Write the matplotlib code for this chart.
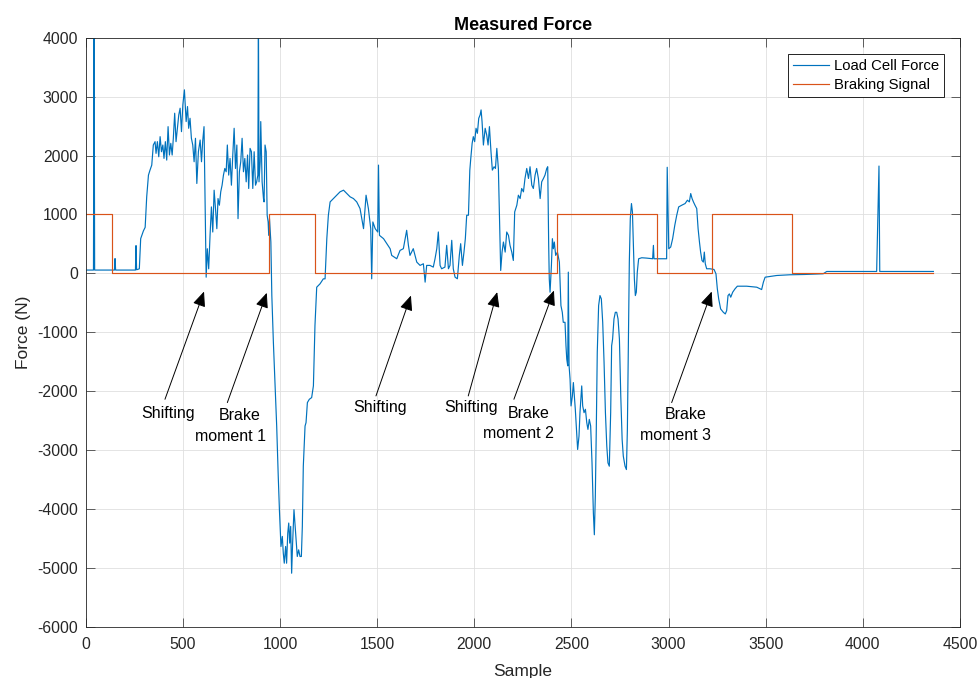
import matplotlib
matplotlib.use("Agg")
import matplotlib.pyplot as plt
import numpy as np

plt.rcParams['font.family'] = ['Liberation Sans', 'DejaVu Sans']
plt.rcParams['axes.unicode_minus'] = False

# Load cell force (sample index, N)
samples = [
    0, 40, 43, 46, 148, 151, 154, 256, 259, 262,
    276, 283, 297, 306, 314, 323, 331, 340, 348, 357,
    362, 369, 376, 383, 390, 397, 403, 410, 417, 424,
    431, 438, 445, 451, 458, 465, 472, 479, 486, 493,
    500, 508, 517, 524, 530, 537, 544, 551, 558, 565,
    572, 580, 589, 596, 602, 609, 614, 620, 626, 633,
    640, 647, 654, 661, 668, 675, 681, 688, 695, 702,
    709, 716, 723, 729, 736, 743, 750, 757, 764, 771,
    778, 784, 791, 798, 805, 812, 819, 826, 833, 839,
    846, 853, 860, 867, 874, 880, 886, 889, 892, 898,
    901, 908, 915, 918, 923, 929, 934, 939, 942, 946,
    949, 953, 958, 966, 983, 991, 997, 1005, 1012, 1017,
    1022, 1029, 1034, 1040, 1045, 1050, 1055, 1060, 1065, 1072,
    1077, 1082, 1089, 1096, 1103, 1110, 1115, 1120, 1129, 1134,
    1141, 1151, 1163, 1172, 1180, 1189, 1206, 1223, 1232, 1241,
    1249, 1258, 1275, 1292, 1309, 1327, 1344, 1361, 1378, 1395,
    1412, 1430, 1443, 1455, 1467, 1472, 1478, 1490, 1503, 1507,
    1512, 1533, 1550, 1567, 1575, 1601, 1618, 1635, 1652, 1661,
    1669, 1686, 1704, 1721, 1738, 1747, 1755, 1772, 1789, 1798,
    1807, 1815, 1824, 1832, 1849, 1858, 1867, 1875, 1884, 1892,
    1901, 1913, 1923, 1930, 1939, 1947, 1954, 1961, 1970, 1977,
    1982, 1989, 1995, 2002, 2009, 2016, 2023, 2030, 2035, 2040,
    2047, 2056, 2064, 2071, 2078, 2086, 2093, 2102, 2109, 2116,
    2124, 2129, 2136, 2143, 2150, 2159, 2167, 2176, 2184, 2193,
    2201, 2208, 2219, 2227, 2236, 2244, 2253, 2261, 2270, 2279,
    2287, 2296, 2304, 2313, 2321, 2330, 2339, 2347, 2356, 2364,
    2373, 2378, 2383, 2386, 2390, 2397, 2402, 2407, 2412, 2419,
    2428, 2438, 2446, 2453, 2458, 2467, 2472, 2476, 2481, 2484,
    2488, 2493, 2498, 2505, 2510, 2515, 2520, 2527, 2532, 2539,
    2544, 2553, 2558, 2565, 2572, 2579, 2585, 2592, 2599, 2606,
    2613, 2618, 2623, 2628, 2633, 2640, 2647, 2654, 2661, 2668,
    2675, 2682, 2688, 2695, 2702, 2707, 2712, 2719, 2726, 2733,
    2740, 2747, 2754, 2761, 2767, 2776, 2783, 2788, 2793, 2798,
    2803, 2809, 2814, 2819, 2824, 2829, 2834, 2839, 2846, 2862,
    2887, 2918, 2922, 2925, 2956, 2990, 2993, 3001, 3011, 3021,
    3032, 3042, 3052, 3068, 3085, 3097, 3107, 3114, 3121, 3128,
    3136, 3145, 3152, 3159, 3165, 3172, 3179, 3184, 3189, 3196,
    3213, 3234, 3244, 3251, 3258, 3268, 3282, 3292, 3299, 3306,
    3313, 3320, 3330, 3342, 3354, 3402, 3454, 3479, 3488, 3497,
    3557, 3625, 3700, 3796, 3814, 4071, 4083, 4087, 4363,
]
force = [
    55, 55, 4500, 55, 55, 250, 55, 55, 470, 60,
    76, 588, 720, 780, 1300, 1667, 1752, 1837, 2178, 2235,
    2036, 2235, 1979, 2320, 2064, 2178, 1951, 2235, 1922, 2490,
    2008, 2206, 2008, 2292, 2718, 2235, 2462, 2689, 2803, 2405,
    2860, 3115, 2576, 2831, 2462, 2632, 2292, 2178, 1894, 2292,
    1525, 2064, 2263, 1894, 2235, 2490, 1326, -66, 417, 76,
    644, 1127, 701, 1411, 1099, 758, 1269, 1156, 1383, 1496,
    1667, 1780, 1724, 2178, 1667, 1951, 1496, 2008, 2462, 1780,
    2178, 928, 1724, 1894, 2292, 1724, 1951, 1553, 2008, 1440,
    2121, 2064, 1440, 2064, 1496, 1553, 1667, 4400, 1553, 1894,
    2576, 1553, 1269, 1212, 2178, 2064, 985, 872, 644, 928,
    758, 531, -378, -1173, -2593, -3445, -4013, -4638, -4467, -4751,
    -4922, -4638, -4922, -4411, -4240, -4581, -4297, -5092, -4581, -4013,
    -4240, -4467, -4808, -4695, -4808, -4808, -4297, -3275, -2593, -2536,
    -2195, -2139, -2110, -1911, -889, -236, -179, -94, -94, 588,
    985, 1212, 1269, 1326, 1383, 1411, 1354, 1298, 1269, 1212,
    1099, 758, 1326, 1099, 758, -94, 872, 758, 701, 1837,
    644, 588, 503, 417, 304, 247, 389, 418, 730, 475,
    304, 418, 190, 134, 162, -150, 134, 134, 105, 247,
    418, 702, 134, 77, 105, 475, 77, 134, 560, 77,
    -65, -93, 304, 503, 134, 361, 588, 986, 986, 1750,
    1951, 2206, 2320, 2235, 2462, 2377, 2632, 2689, 2774, 2576,
    2178, 2462, 2348, 2178, 2490, 2064, 1752, 1809, 1780, 2121,
    1780, 1042, 48, 360, 531, 360, 701, 644, 474, 360,
    218, 1042, 1156, 1326, 1269, 1440, 1383, 1610, 1780, 1610,
    1809, 1496, 1440, 1667, 1780, 1610, 1269, 1553, 1610, 1667,
    1780, 1809, 474, -94, -321, 133, 588, 417, 531, 304,
    360, 190, -548, -662, -832, -832, -1230, -1457, -1571, 20,
    -1571, -1798, -2252, -2082, -1855, -2082, -2309, -2707, -2991, -2764,
    -2366, -1912, -2252, -2366, -2309, -2536, -2650, -2480, -2593, -3218,
    -4070, -4439, -3786, -2650, -1344, -548, -378, -435, -832, -1514,
    -2366, -2934, -3218, -3275, -2366, -1230, -1116, -775, -662, -662,
    -775, -1116, -2082, -2820, -3104, -3275, -3332, -2650, -1230, 190,
    928, 1184, 1042, 474, -94, -378, -321, 20, 247, 264,
    258, 247, 474, 247, 247, 247, 1800, 417, 446, 588,
    815, 985, 1127, 1156, 1184, 1241, 1212, 1354, 1269, 1212,
    1156, 1099, 758, 531, 360, 218, 190, 360, 162, 77,
    77, 65, -9, -264, -435, -605, -662, -690, -634, -378,
    -350, -406, -321, -264, -219, -219, -236, -276, -151, -66,
    -37, -25, -20, -8, 31, 31, 1821, 31, 31,
]

# Braking signal edges (steps-post)
brake_samples = [0, 136, 943, 1180, 2427, 2941, 3224, 3636, 4361]
brake_level = [1000, 0, 1000, 0, 1000, 0, 1000, 0, 0]

# Annotations: arrow tail (text end) and head
arrow_tail_x = [408, 729, 1494, 1969, 2204, 3016]
arrow_tail_y = [-2139, -2195, -2082, -2082, -2139, -2195]
arrow_head_x = [609, 932, 1674, 2118, 2410, 3222]
arrow_head_y = [-310, -332, -378, -320, -293, -310]

label_text = ['Shifting', 'Brake', 'moment 1', 'Shifting', 'Shifting',
              'Brake', 'moment 2', 'Brake', 'moment 3']
label_x = [425, 794, 743, 1513, 1984, 2279, 2229, 3087, 3037]
label_y = [-2462, -2491, -2849, -2355, -2355, -2450, -2791, -2479, -2832]

blue = '#0072BD'
orange = '#D95319'
dark = '#262626'

fig = plt.figure(figsize=(9.8, 6.78), dpi=100)
ax = fig.add_axes([85.7 / 980, 51.3 / 678, 874.3 / 980, 589 / 678])

ax.plot(samples, force, color=blue, lw=0.85, label='Load Cell Force')
ax.plot(brake_samples, brake_level, color=orange, lw=0.85,
        drawstyle='steps-post', label='Braking Signal')

for tx, ty, hx, hy in zip(arrow_tail_x, arrow_tail_y, arrow_head_x, arrow_head_y):
    ax.annotate('', xy=(hx, hy), xytext=(tx, ty),
                arrowprops=dict(arrowstyle='-|>,head_length=0.65,head_width=0.28',
                                color='k', lw=0.7, mutation_scale=14,
                                shrinkA=0, shrinkB=0))
for s, x, y in zip(label_text, label_x, label_y):
    ax.text(x, y, s, ha='center', va='baseline', fontsize=11.5, color='k')

ax.set_xlim(0, 4500)
ax.set_ylim(-6000, 4000)
ax.set_xticks(np.arange(0, 4501, 500))
ax.set_yticks(np.arange(-6000, 4001, 1000))
ax.grid(True, color='#dfdfdf', linewidth=0.6)
ax.set_axisbelow(True)
ax.tick_params(direction='in', length=6.3, width=0.5, top=True, right=True,
               colors=dark, labelsize=11.3)
ax.tick_params(axis='x', pad=7.4)
ax.tick_params(axis='y', pad=5.3)
for sp in ax.spines.values():
    sp.set_color(dark)
    sp.set_linewidth(0.6)

ax.set_title('Measured Force', fontsize=13, fontweight='bold', pad=5.5)
ax.set_xlabel('Sample', fontsize=12.5, color=dark)
ax.set_ylabel('Force (N)', fontsize=12.5, color=dark)
ax.xaxis.set_label_coords(0.5, -0.064)
ax.yaxis.set_label_coords(-0.062, 0.5)

leg = ax.legend(loc='upper right', bbox_to_anchor=(0.982, 0.972), borderaxespad=0,
                fontsize=10.7, handlelength=2.4, handletextpad=0.35,
                labelspacing=0.3, borderpad=0.35, fancybox=False,
                edgecolor='k', framealpha=1)
leg.get_frame().set_linewidth(0.6)

fig.savefig('out.png', dpi=100)
